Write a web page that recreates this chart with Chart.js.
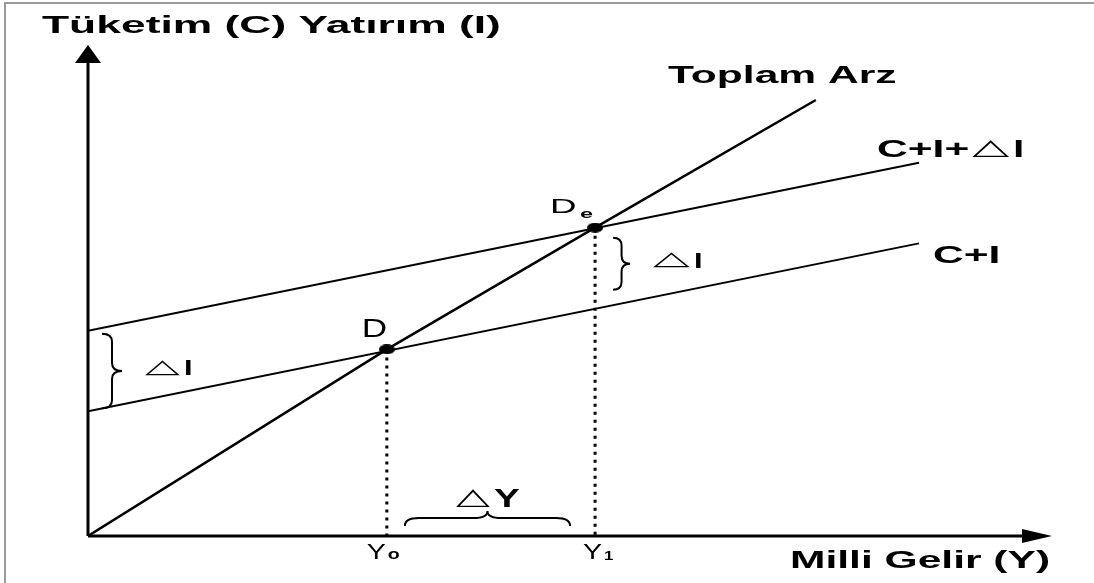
<!DOCTYPE html>
<html>
<head>
<meta charset="utf-8">
<script src="https://cdn.jsdelivr.net/npm/chart.js@4/dist/chart.umd.min.js"></script>
<style>
  html, body { margin: 0; padding: 0; background: #fff; }
  canvas { display: block; }
</style>
</head>
<body>
<canvas id="chart" width="1094" height="583"></canvas>
<script>
// values (x = milli gelir, y = C / I), axes run 0..100 and 0..50
const supplyX = [0, 31.0, 52.6, 75.5];      // Toplam Arz: origin, D, De, end
const supplyY = [0, 19.0, 31.4, 44.4];
const ciX = [0, 86.2];                      // C+I
const ciY = [12.7, 29.8];
const ciDiX = [0, 86.2];                    // C+I+ΔI
const ciDiY = [20.9, 38.0];
const eqX = [31.0, 52.6];                   // D, De  (Y0, Y1)
const eqY = [19.0, 31.4];

const toPts = (xs, ys) => xs.map((x, i) => ({ x: x, y: ys[i] }));

// stretched ellipse for the equilibrium dots
const dot = document.createElement("canvas");
dot.width = 16; dot.height = 10;
const dc = dot.getContext("2d");
dc.fillStyle = "#000";
dc.beginPath();
dc.ellipse(8, 5, 8, 5, 0, 0, Math.PI * 2);
dc.fill();

const FAM = "'Liberation Sans', Arial, 'DejaVu Sans', sans-serif";
const TRI = "\u25B3";

// the text in the picture is stretched sideways
function wideText(ctx, text, x, y, font, sx, sy) {
  ctx.save();
  ctx.translate(x, y);
  ctx.scale(sx, sy || 1);
  ctx.font = font;
  ctx.fillStyle = "#000";
  ctx.textBaseline = "alphabetic";
  ctx.fillText(text, 0, 0);
  const w = ctx.measureText(text).width * sx;
  ctx.restore();
  return w;
}

// "△" + letter: triangle thin and wide sitting on the baseline, letter bold
function deltaLabel(ctx, letter, x, y, size, triW, letSx) {
  ctx.save();
  ctx.font = "bold " + size + "px " + FAM;
  const cap = ctx.measureText(letter).actualBoundingBoxAscent;
  ctx.font = "100px 'DejaVu Sans', sans-serif";
  const m = ctx.measureText(TRI);
  ctx.restore();
  const gh = m.actualBoundingBoxAscent + m.actualBoundingBoxDescent;
  const gw = m.actualBoundingBoxLeft + m.actualBoundingBoxRight;
  const sy = cap / gh, sx = triW / gw;
  ctx.save();
  ctx.translate(x + m.actualBoundingBoxLeft * sx, y - m.actualBoundingBoxDescent * sy);
  ctx.scale(sx, sy);
  ctx.font = "100px 'DejaVu Sans', sans-serif";
  ctx.fillStyle = "#000";
  ctx.fillText(TRI, 0, 0);
  ctx.restore();
  wideText(ctx, letter, x + triW + 4, y, "bold " + size + "px " + FAM, letSx);
}

function braceRight(ctx, x, y1, y2, w) {
  const mid = (y1 + y2) / 2, r = 8, h = x + w / 2;
  ctx.beginPath();
  ctx.moveTo(x, y1);
  ctx.quadraticCurveTo(h, y1, h, y1 + r);
  ctx.lineTo(h, mid - r);
  ctx.quadraticCurveTo(h, mid, x + w, mid);
  ctx.quadraticCurveTo(h, mid, h, mid + r);
  ctx.lineTo(h, y2 - r);
  ctx.quadraticCurveTo(h, y2, x, y2);
  ctx.stroke();
}

function braceUp(ctx, x1, x2, yb) {
  const mid = (x1 + x2) / 2, r = 14, yf = yb - 8, yp = yb - 15;
  ctx.beginPath();
  ctx.moveTo(x1, yb);
  ctx.quadraticCurveTo(x1, yf, x1 + r, yf);
  ctx.lineTo(mid - r, yf);
  ctx.quadraticCurveTo(mid, yf, mid, yp);
  ctx.quadraticCurveTo(mid, yf, mid + r, yf);
  ctx.lineTo(x2 - r, yf);
  ctx.quadraticCurveTo(x2, yf, x2, yb);
  ctx.stroke();
}

const diagram = {
  id: "diagram",
  beforeDatasetsDraw(chart) {
    const ctx = chart.ctx;
    const xs = chart.scales.x, ys = chart.scales.y;
    const ox = xs.getPixelForValue(0), oy = ys.getPixelForValue(0);
    const top = ys.getPixelForValue(50), right = xs.getPixelForValue(100);

    // frame lines at the top and left edge
    ctx.save();
    ctx.strokeStyle = "#9a9a9a";
    ctx.lineWidth = 2;
    ctx.beginPath();
    ctx.moveTo(5, chart.height);
    ctx.lineTo(5, 3);
    ctx.lineTo(chart.width, 3);
    ctx.stroke();

    // axes with arrows
    ctx.strokeStyle = "#000";
    ctx.fillStyle = "#000";
    ctx.lineWidth = 3;
    ctx.beginPath();
    ctx.moveTo(ox, oy);
    ctx.lineTo(ox, top + 10);
    ctx.moveTo(ox, oy);
    ctx.lineTo(right - 10, oy);
    ctx.stroke();
    ctx.beginPath();
    ctx.moveTo(ox, top);
    ctx.lineTo(ox - 13, top + 18);
    ctx.lineTo(ox + 13, top + 18);
    ctx.closePath();
    ctx.fill();
    ctx.beginPath();
    ctx.moveTo(right, oy);
    ctx.lineTo(right - 30, oy - 7);
    ctx.lineTo(right - 30, oy + 7);
    ctx.closePath();
    ctx.fill();
    ctx.restore();
  },
  afterDatasetsDraw(chart) {
    const ctx = chart.ctx;
    const xs = chart.scales.x, ys = chart.scales.y;
    const ox = xs.getPixelForValue(0), oy = ys.getPixelForValue(0);
    const y0 = xs.getPixelForValue(eqX[0]), y1 = xs.getPixelForValue(eqX[1]);
    const dY = ys.getPixelForValue(eqY[0]), deY = ys.getPixelForValue(eqY[1]);
    const bold = "bold 23px " + FAM;
    const reg = (s) => s + "px " + FAM;

    wideText(ctx, "Tüketim (C) Yatırım (I)", 42, 33, "bold 24px " + FAM, 1.85);
    wideText(ctx, "Toplam Arz", 668, 83, bold, 1.85);
    const w = wideText(ctx, "C+I+", 877, 157, bold, 1.85);
    deltaLabel(ctx, "I", 877 + w + 3, 157, 23, 37, 1.7);
    wideText(ctx, "C+I", 933, 263, bold, 1.85);
    wideText(ctx, "Milli Gelir (Y)", 790, 568, bold, 1.85);

    // point labels
    wideText(ctx, "D", y0 - 25, dY - 12, reg(26), 1.35);
    wideText(ctx, "D", y1 - 45, deY - 15, reg(21), 1.75);
    wideText(ctx, "e", y1 - 15, deY - 10, "bold 13px " + FAM, 1.8);

    // ΔI next to the shift
    ctx.save();
    ctx.strokeStyle = "#000";
    ctx.lineWidth = 2;
    braceRight(ctx, y1 + 18, deY + 10, deY + 62, 17);
    const ciTop = ys.getPixelForValue(ciDiY[0]), ciLow = ys.getPixelForValue(ciY[0]);
    braceRight(ctx, ox + 14, ciTop + 3, ciLow - 3, 20);
    braceUp(ctx, y0 + 18, y1 - 25, oy - 10);
    ctx.restore();
    deltaLabel(ctx, "I", y1 + 58, deY + 40, 22, 37, 1.4);
    deltaLabel(ctx, "I", ox + 57, (ciTop + ciLow) / 2 + 4, 22, 35, 1.4);

    // ΔY and the income levels
    deltaLabel(ctx, "Y", (y0 + y1) / 2 - 35, oy - 29, 25, 34, 1.55);
    wideText(ctx, "Y", y0 - 20, oy + 23, reg(22), 1.3);
    wideText(ctx, "o", y0 + 1, oy + 23, "bold 14px " + FAM, 1.4);
    wideText(ctx, "Y", y1 - 12, oy + 23, reg(22), 1.3);
    wideText(ctx, "1", y1 + 9, oy + 24, "bold 13px " + FAM, 1.3);
  }
};

new Chart(document.getElementById("chart"), {
  type: "scatter",
  data: {
    datasets: [
      { data: toPts(supplyX, supplyY), showLine: true, borderColor: "#000", borderWidth: 2.5, pointRadius: 0 },
      { data: toPts(ciX, ciY), showLine: true, borderColor: "#000", borderWidth: 2, pointRadius: 0 },
      { data: toPts(ciDiX, ciDiY), showLine: true, borderColor: "#000", borderWidth: 2, pointRadius: 0 },
      { data: [{ x: eqX[0], y: eqY[0] }, { x: eqX[0], y: 0 }], showLine: true, borderColor: "#000",
        borderWidth: 3, borderDash: [3, 5], pointRadius: 0 },
      { data: [{ x: eqX[1], y: eqY[1] }, { x: eqX[1], y: 0 }], showLine: true, borderColor: "#000",
        borderWidth: 3, borderDash: [3, 5], pointRadius: 0 },
      { data: toPts(eqX, eqY), pointStyle: dot, pointRadius: 8, backgroundColor: "#000", borderColor: "#000" }
    ]
  },
  options: {
    responsive: false,
    animation: false,
    devicePixelRatio: 1,
    layout: { padding: { left: 88, right: 42, top: 45, bottom: 47 } },
    plugins: { legend: { display: false }, tooltip: { enabled: false }, title: { display: false } },
    scales: {
      x: { type: "linear", min: 0, max: 100, display: false },
      y: { type: "linear", min: 0, max: 50, display: false }
    }
  },
  plugins: [diagram]
});
</script>
</body>
</html>
